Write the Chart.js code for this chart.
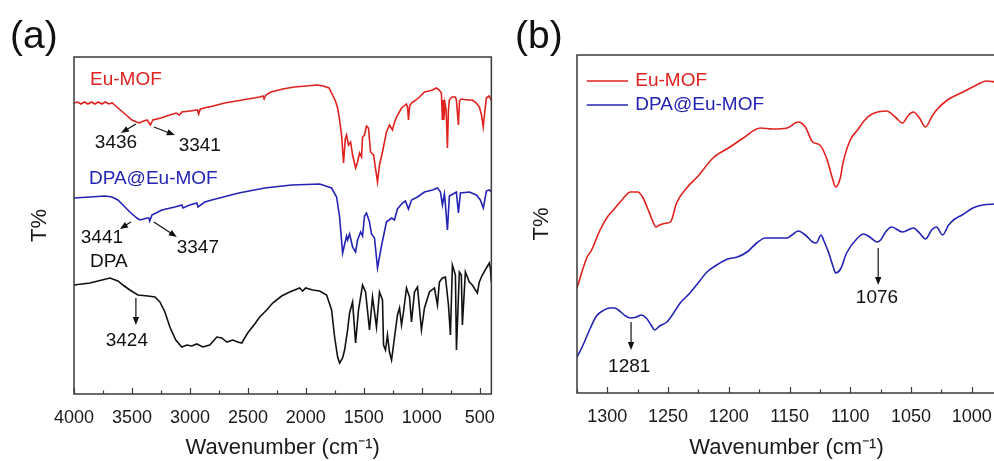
<!DOCTYPE html>
<html>
<head>
<meta charset="utf-8">
<title>FTIR spectra</title>
<script src="https://cdn.jsdelivr.net/npm/chart.js@4.4.0/dist/chart.umd.min.js"></script>
<style>
  body { margin: 0; background: #fff; font-family: "Liberation Sans", Arial, sans-serif; }
  .panel { position: absolute; top: 0; height: 461px; overflow: hidden; }
  #panelA { left: 0; width: 500px; }
  #panelB { left: 500px; width: 494px; }
  .tag { position: absolute; top: 15px; font-size: 39px; line-height: 39px; color: #111; }
</style>
</head>
<body>
<div class="panel" id="panelA">
  <canvas id="chartA" width="500" height="461"></canvas>
</div>
<div class="panel" id="panelB">
  <canvas id="chartB" width="500" height="461"></canvas>
</div>
<div class="tag" style="left:10px">(a)</div>
<div class="tag" style="left:515px">(b)</div>

<script>
// ---- panel (a): full range, wavenumber (cm-1) vs transmittance (arb. units, offset)
const xTicksA = [4000, 3500, 3000, 2500, 2000, 1500, 1000, 500];

const euWnA = [4000,3970,3940,3910,3880,3850,3820,3790,3760,3730,
  3700,3670,3650,3600,3550,3500,3460,3436,3400,3370,
  3341,3320,3250,3200,3120,3090,3070,3000,2935,2925,
  2910,2800,2700,2600,2500,2400,2370,2360,2345,2300,
  2200,2100,2000,1900,1850,1800,1770,1745,1726,1710,
  1692,1675,1660,1649,1632,1614,1597,1571,1554,1537,
  1520,1511,1494,1477,1460,1442,1416,1382,1365,1339,
  1305,1279,1253,1240,1218,1175,1132,1122,1115,1105,
  1089,1063,1020,977,940,908,874,850,
  831,822,815,810,800,790,779,770,762,740,
  710,702,684,675,660,600,563,530,503,485,
  470,455,443,420,400];
const euTA = [291,292,290,292,290,292,290,292,290,292,
  290,291,289,284,279,274,272,271,273,274,
  269,274,276,278,281,279,282,283,284,280,
  285,288,291,293,295,297,298,295,299,302,
  305,307,308,309,308,306,299,293,286,275,
  259,231,255,259,249,252,239,226,232,241,
  237,257,259,268,266,242,239,212,229,242,
  262,269,264,270,277,286,290,286,274,288,
  291,293,297,302,303,304,306,304,
  301,274,294,274,291,284,246,284,294,297,
  297,294,269,293,295,294,294,291,287,279,
  267,284,296,298,294];

const dpaEuWnA = [4000,3862,3733,3673,3621,3561,3509,3457,3432,3397,
  3371,3354,3347,3328,3242,3130,3070,3060,3001,2941,
  2930,2872,2812,2579,2355,2123,1881,1778,1735,1709,
  1683,1649,1640,1623,1597,1571,1554,1528,1511,1494,
  1477,1451,1434,1408,1382,1348,1305,1261,1236,1210,
  1167,1141,1115,1089,1037,977,908,865,839,822,
  805,796,779,762,702,684,667,590,529,495,
  469,443,417,400];
const dpaEuTA = [196,197,198,197,194,187,181,176,174,175,
  176,176,173,179,184,187,189,186,189,191,
  187,192,194,201,206,209,210,206,197,177,
  141,158,154,160,147,142,154,162,158,178,
  181,172,160,156,126,148,172,176,174,185,
  191,193,185,194,197,202,204,206,202,189,
  200,189,164,198,202,181,201,202,199,194,
  186,203,204,202];

const dpaWnA = [4000,3862,3690,3621,3578,3518,3449,3363,3302,3259,
  3216,3173,3122,3070,3027,2984,2941,2889,2829,2768,
  2725,2682,2631,2588,2553,2502,2441,2398,2338,2286,
  2209,2140,2054,2028,2002,1942,1881,1821,1778,1752,
  1726,1709,1683,1666,1640,1623,1597,1571,1546,1511,
  1485,1451,1425,1391,1365,1339,1330,1313,1296,1279,
  1261,1236,1210,1192,1175,1158,1132,1106,1089,1063,
  1037,1003,977,934,891,865,848,822,796,770,
  753,736,710,701,676,659,650,624,590,564,
  521,504,478,443,417,409,400];
const dpaTA = [109,111,116,113,109,104,99,98,97,92,
  82,67,54,47,49,48,50,47,49,57,
  56,52,54,52,51,61,70,77,84,91,
  98,102,106,103,106,104,103,99,84,57,
  37,31,36,44,64,81,92,51,84,109,
  102,64,97,67,102,94,49,44,59,42,
  34,56,79,86,69,82,106,97,72,102,
  107,64,86,102,106,89,112,116,117,89,
  59,129,119,44,122,119,69,122,112,109,
  101,112,119,126,131,126,112];

// ---- panel (b): zoom on 1325-980 cm-1
const xTicksB = [1300, 1250, 1200, 1150, 1100, 1050, 1000];

const euWnB = [1325,1317,1313,1306,1300,1295,1288,1281,1275,1271,
  1267,1263,1260,1257,1251,1248,1243,1234,1226,1213,
  1199,1188,1174,1164,1152,1143,1137,1131,1125,1119,
  1115,1112,1108,1106,1100,1094,1088,1082,1070,1063,
  1057,1052,1048,1043,1038,1033,1029,1020,1007,996,
  988,980];
const euTB = [105,135,143,163,176,183,193,201,201,196,
  185,173,166,168,170,171,190,206,216,235,
  246,255,265,264,265,271,266,251,248,233,
  216,206,216,230,253,263,273,279,282,276,
  270,278,281,275,266,276,283,293,301,308,
  312,311];

const dpaEuWnB = [1325,1320,1314,1309,1304,1298,1294,1290,1285,1281,
  1276,1272,1268,1264,1261,1257,1251,1246,1240,1232,
  1224,1218,1210,1201,1193,1185,1177,1170,1152,1148,
  1143,1137,1131,1128,1124,1122,1118,1114,1112,1108,
  1103,1094,1089,1084,1078,1075,1071,1066,1057,1048,
  1043,1038,1033,1029,1024,1019,1014,1008,999,991,
  980];
const dpaEuTB = [36,48,65,77,82,85,85,82,77,75,
  76,78,75,68,63,67,71,79,90,100,
  112,121,128,134,136,141,150,155,155,158,
  162,158,151,150,158,153,141,126,120,124,
  140,155,159,156,151,153,161,166,161,165,
  160,154,163,166,158,168,174,178,185,188,
  189];

// annotations, in data coordinates
const notesA = [
  { text: 'Eu-MOF', x: 3862, y: 314, color: 'red', align: 'left' },
  { text: 'DPA@Eu-MOF', x: 3871, y: 215, color: 'blue', align: 'left' },
  { text: 'DPA', x: 3862, y: 132, color: 'black', align: 'left' },
  { text: '3436', x: 3638, y: 251 },
  { text: '3341', x: 2915, y: 248 },
  { text: '3441', x: 3759, y: 156 },
  { text: '3347', x: 2932, y: 146 },
  { text: '3424', x: 3544, y: 53 }
];
const arrowsA = [
  [3466, 270, 3595, 261],
  [3311, 267, 3130, 259],
  [3509, 172, 3604, 165],
  [3311, 172, 3113, 157],
  [3466, 96, 3466, 69]
];
const notesB = [
  { text: 'Eu-MOF', x: 1277, y: 312, color: 'red', align: 'left' },
  { text: 'DPA@Eu-MOF', x: 1277, y: 288, color: 'blue', align: 'left' },
  { text: '1281', x: 1282, y: 26 },
  { text: '1076', x: 1078, y: 95 }
];
const arrowsB = [
  [1280.5, 71, 1280.5, 43],
  [1077, 145, 1077, 108]
];
const legendLinesB = [
  { from: 1317, to: 1283, y: 312, color: 'red' },
  { from: 1317, to: 1283, y: 288, color: 'blue' }
];

const COLORS = { red: '#e0221f', blue: '#2424b4', black: '#111111' };
const FONT = '"Liberation Sans", Arial, sans-serif';
Chart.defaults.font.family = FONT;
Chart.defaults.color = '#1a1a1a';

function pts(xs, ys) {
  return xs.map((x, i) => ({ x: x, y: ys[i] }));
}

// box round the plot area with inward ticks
const framePlugin = {
  id: 'frame',
  afterDatasetsDraw(chart, args, opts) {
    const { ctx, chartArea: a } = chart;
    const xs = chart.scales.x;
    ctx.save();
    ctx.strokeStyle = '#3a3a3a';
    ctx.lineWidth = 1.5;
    ctx.strokeRect(a.left, a.top, a.right - a.left, a.bottom - a.top);
    ctx.lineWidth = 1.2;
    for (let v = opts.start; v >= xs.min; v -= opts.minor) {
      const px = Math.round(xs.getPixelForValue(v)) + 0.5;
      const len = (v % opts.major === 0) ? 6 : 3.5;
      ctx.beginPath();
      ctx.moveTo(px, a.bottom);
      ctx.lineTo(px, a.bottom - len);
      ctx.stroke();
    }
    ctx.restore();
  }
};

const notesPlugin = {
  id: 'notes',
  afterDatasetsDraw(chart, args, opts) {
    const { ctx } = chart;
    const xs = chart.scales.x, ys = chart.scales.y;
    ctx.save();
    ctx.font = '19px ' + FONT;
    ctx.textBaseline = 'middle';
    (opts.lines || []).forEach(l => {
      ctx.strokeStyle = COLORS[l.color];
      ctx.lineWidth = 1.5;
      ctx.beginPath();
      ctx.moveTo(xs.getPixelForValue(l.from), ys.getPixelForValue(l.y));
      ctx.lineTo(xs.getPixelForValue(l.to), ys.getPixelForValue(l.y));
      ctx.stroke();
    });
    (opts.arrows || []).forEach(r => {
      const x1 = xs.getPixelForValue(r[0]), y1 = ys.getPixelForValue(r[1]);
      const x2 = xs.getPixelForValue(r[2]), y2 = ys.getPixelForValue(r[3]);
      const ang = Math.atan2(y2 - y1, x2 - x1);
      const hl = 8, hw = 3.2;
      ctx.strokeStyle = '#111';
      ctx.fillStyle = '#111';
      ctx.lineWidth = 1.2;
      ctx.beginPath();
      ctx.moveTo(x1, y1);
      ctx.lineTo(x2 - Math.cos(ang) * hl * 0.8, y2 - Math.sin(ang) * hl * 0.8);
      ctx.stroke();
      ctx.beginPath();
      ctx.moveTo(x2, y2);
      ctx.lineTo(x2 - Math.cos(ang) * hl - Math.sin(ang) * hw, y2 - Math.sin(ang) * hl + Math.cos(ang) * hw);
      ctx.lineTo(x2 - Math.cos(ang) * hl + Math.sin(ang) * hw, y2 - Math.sin(ang) * hl - Math.cos(ang) * hw);
      ctx.closePath();
      ctx.fill();
    });
    (opts.notes || []).forEach(n => {
      ctx.fillStyle = COLORS[n.color || 'black'];
      ctx.textAlign = n.align || 'center';
      ctx.fillText(n.text, xs.getPixelForValue(n.x), ys.getPixelForValue(n.y));
    });
    ctx.restore();
  }
};

function makeChart(id, cfg) {
  return new Chart(document.getElementById(id), {
    type: 'line',
    data: { datasets: cfg.datasets },
    options: {
      responsive: false,
      animation: false,
      layout: { padding: { top: cfg.top, right: cfg.right, left: 0, bottom: 0 } },
      elements: {
        point: { radius: 0 },
        line: { borderWidth: 1.6, tension: cfg.tension, cubicInterpolationMode: cfg.interp }
      },
      plugins: {
        legend: { display: false },
        tooltip: { enabled: false },
        frame: cfg.frame,
        notes: cfg.notes
      },
      scales: {
        x: {
          type: 'linear',
          reverse: true,
          min: cfg.xMin,
          max: cfg.xMax,
          grid: { display: false },
          border: { display: false },
          ticks: {
            font: { size: 18 }, padding: 5, color: '#1a1a1a', maxRotation: 0,
            callback: v => String(v)
          },
          afterBuildTicks: s => { s.ticks = cfg.xTicks.map(v => ({ value: v })); },
          afterFit: s => { s.height = 461 - cfg.bottom; },
          title: {
            display: true,
            text: 'Wavenumber (cm\u207B\u00B9)',
            font: { size: 22 },
            padding: { top: 0, bottom: 0 },
            color: '#1a1a1a'
          }
        },
        y: {
          min: 0,
          max: cfg.yMax,
          grid: { display: false },
          border: { display: false },
          ticks: { display: false },
          afterFit: s => { s.width = cfg.left; },
          title: {
            display: true,
            text: 'T%',
            font: { size: 22 },
            padding: { top: cfg.yTitlePad, bottom: 0 },
            color: '#1a1a1a'
          }
        }
      }
    },
    plugins: [framePlugin, notesPlugin]
  });
}

makeChart('chartA', {
  datasets: [
    { label: 'Eu-MOF', data: pts(euWnA, euTA), borderColor: COLORS.red },
    { label: 'DPA@Eu-MOF', data: pts(dpaEuWnA, dpaEuTA), borderColor: COLORS.blue },
    { label: 'DPA', data: pts(dpaWnA, dpaTA), borderColor: COLORS.black }
  ],
  xMin: 400, xMax: 4000, xTicks: xTicksA, yMax: 337,
  top: 57, bottom: 394, left: 74, right: 8, yTitlePad: 27,
  tension: 0, interp: 'default',
  frame: { start: 4000, major: 500, minor: 250 },
  notes: { notes: notesA, arrows: arrowsA }
});

makeChart('chartB', {
  datasets: [
    { label: 'Eu-MOF', data: pts(euWnB, euTB), borderColor: COLORS.red },
    { label: 'DPA@Eu-MOF', data: pts(dpaEuWnB, dpaEuTB), borderColor: COLORS.blue }
  ],
  xMin: 980, xMax: 1325, xTicks: xTicksB, yMax: 338,
  top: 55, bottom: 393, left: 77, right: 4, yTitlePad: 29,
  tension: 0.4, interp: 'monotone',
  frame: { start: 1325, major: 50, minor: 25 },
  notes: { notes: notesB, arrows: arrowsB, lines: legendLinesB }
});
</script>
</body>
</html>
